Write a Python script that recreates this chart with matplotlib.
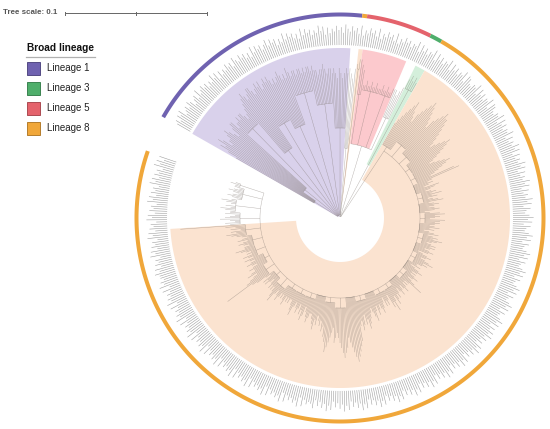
"""Circular phylogeny of isolates coloured by broad lineage (iTOL style)."""

import matplotlib
import numpy as np

matplotlib.use("Agg")
import matplotlib.pyplot as plt
from matplotlib.collections import LineCollection
from matplotlib.patches import Polygon, Rectangle

plt.rcParams["font.family"] = ["Liberation Sans", "DejaVu Sans"]

LINEAGES = ["Lineage 1", "Lineage 3", "Lineage 5", "Lineage 8"]
LINEAGE_COLORS = ["#6f62b0", "#4fae6b", "#e4636c", "#f0a73a"]
LEGEND_TITLE = "Broad lineage"
TREE_SCALE = 0.1

# subclades in leaf order, "<node>|<tips>": radius = 5 * int(char, 36) px from root
L1_GROUPS = ["6|oqsrtsqr", "9|rstsrqsttr", "p|sststtsrst", "h|uvwvuvwwvu",
             "m|vwvwuvwvwv", "k|uvuvwvuvuw", "q|vuvvuvvuvuvv", "n|uvuutuuvutuu",
             "i|tutsutstut", "e|utsu"]
L8_SINGLE = ["u|vw"]
L5_GROUPS = ["p|wvu", "q|rrsrrsrrsrr", "q|rsrrsrrs", "m|ssrst"]
L3_GROUPS = ["t|vwvwv"]
L8_GROUPS = [
    "h|mnopqrsqpo", "j|qrstutsrqp", "i|rstuttsrqpo", "h|nopqrqponm", "h|lmnoponmlkp",
    "g|qkjkjilkji", "h|jkjljkijkl", "g|ijkjijkjhi", "h|kljkjilkjk", "g|jijkijhijk",
    "h|ijkjlkjijk", "g|jkjijkjhij", "h|kjijkljkji", "g|ijhijkjiji", "h|jkjijkmjij",
    "g|ijkjijkjij", "h|kjkljkmkl",
    "h|ijkjkijklk", "g|jkljkmlkjk", "h|lmnlmkmnlm", "g|pqrstsrqpo", "i|qrsrqponop",
    "h|mnopqrpomn", "g|lmlkmlnmlk", "h|klmlkjlmkl", "h|jklkjkmlkj",
    "h|jkjkjlkjkj", "i|klkjkmlkjk", "h|jkjijkjkij", "i|lmsnmlkmlk", "h|klkjklkjkl",
    "i|jkljkjklmk", "i|kjklkjlkjk", "j|lmnlmkmlnw",
    "k|mnlmonmlnm", "l|mnomnlmnom", "k|lmnmlmnmlm", "l|mnm",
]

CLADES = [L1_GROUPS, L8_SINGLE, L5_GROUPS, L3_GROUPS, L8_GROUPS]
CLADE_LINEAGE = [0, 3, 2, 1, 3]
CLADE_MRCA = [2, 14, 75, 60, 44]   # px, where each clade leaves the root
CLADE_NODE = [3, 14, 75, 60, 80]   # px, radius of the clade's own node arc
SHADED_GROUPS = [9, 1, 3, 1, 34]   # leading subclades with a coloured background
SHADE_COLORS = ["#d9d1eb", "#fbe3d0", "#fcc9cd", "#d4efdb", "#fbe3d0"]

# rough length of each tip label (0-9)
LABEL_LEN = (
    "574869357486257394685736495827364857396485736294857369485726394857362948573649582736485739"
    "648573926485739264857392648573659284736592847365928473659287436592847365928743659284736592"
    "736495827364958273649582736495827436958274369582743695827436958274369582743695827436958274"
    "859473628594736285947362859473628594736285947362859473628594736285947362859473628594736285"
    "463829574638295746382957463829574638295746382957463829574638295746382957463829574638295746"
    "695837462958374629583746295837462958374629583746295837462958374629583746295837462958374629"
)

CX, CY = 340, 218
START_ANGLE, ARC_SPAN = 150.3, 349.5
WEDGE_R, LABEL_R, RING_R = 170, 173, 203.5


def rad(ch):
    return 5 * int(ch, 36)


def polar(r, a):
    t = np.radians(a)
    return CX + r * np.cos(t), CY - r * np.sin(t)


def arc(r, a1, a2):
    n = max(2, int(abs(a2 - a1) / 0.4) + 2)
    x, y = polar(r, np.linspace(a1, a2, n))
    return np.column_stack([x, y])


def radial(a, r1, r2):
    return np.array([polar(r1, a), polar(r2, a)])


def band(r1, r2, a1, a2):
    return np.vstack([arc(r2, a1, a2), arc(r1, a2, a1)])


def main():
    fig = plt.figure(figsize=(5.5, 4.29), dpi=100)
    ax = fig.add_axes([0, 0, 1, 1])
    ax.set_xlim(0, 550)
    ax.set_ylim(429, 0)
    ax.axis("off")

    n_leaves = sum(len(g.split("|")[1]) for c in CLADES for g in c)
    step = ARC_SPAN / n_leaves

    branches, labels = [], []
    stems = []
    i = 0
    for ci, groups in enumerate(CLADES):
        gmids, leaf_angles = [], []
        for gi, g in enumerate(groups):
            node, tips = g.split("|")
            nr = rad(node)
            angs = START_ANGLE - step * (i + 0.5 + np.arange(len(tips)))
            for a, ch in zip(angs, tips):
                branches.append(radial(a, nr, rad(ch)))
                d = int(LABEL_LEN[i % len(LABEL_LEN)])
                labels.append(radial(a, LABEL_R, LABEL_R + 8 + 1.4 * d))
                i += 1
            if len(tips) > 1:
                branches.append(arc(nr, angs[0], angs[-1]))
            gm = angs.mean()
            branches.append(radial(gm, CLADE_NODE[ci], nr))
            gmids.append(gm)
            leaf_angles.append(angs)
            if gi == SHADED_GROUPS[ci] - 1:
                a1 = leaf_angles[0][0] + step / 2
                a2 = angs[-1] - step / 2
                ax.add_patch(Polygon(band(CLADE_MRCA[ci], WEDGE_R, a1, a2), closed=True,
                                     facecolor=SHADE_COLORS[ci], edgecolor="none", zorder=1))
        if len(gmids) > 1:
            branches.append(arc(CLADE_NODE[ci], gmids[0], gmids[-1]))
        # the big lineage 8 clade is ladderized: its stem sits at the first subclade
        span = gmids[0] - gmids[-1]
        stem = gmids[0] if span > 180 else (gmids[0] + gmids[-1]) / 2
        branches.append(radial(stem, 1.5, CLADE_NODE[ci]))
        stems.append(stem)

        # lineage ring
        a1 = leaf_angles[0][0] + step / 2
        a2 = leaf_angles[-1][-1] - step / 2
        ax.add_patch(Polygon(band(RING_R - 2, RING_R + 2, a1, a2), closed=True,
                             facecolor=LINEAGE_COLORS[CLADE_LINEAGE[ci]],
                             edgecolor="none", zorder=3))
    branches.append(arc(1.5, stems[0], stems[-1]))

    ax.add_collection(LineCollection(branches, colors="#7a716a", linewidths=0.32,
                                     alpha=0.55, zorder=2))
    ax.add_collection(LineCollection(labels, colors="#9a9a9a", linewidths=0.38, zorder=2))

    # legend
    ax.text(27, 48, LEGEND_TITLE, fontsize=7.3, fontweight="bold", va="center", ha="left",
            color="#111111")
    ax.plot([26, 95], [57, 57], color="#b0b0b0", lw=0.9)
    for k, (name, col) in enumerate(zip(LINEAGES, LINEAGE_COLORS)):
        y = 68 + 20 * k
        edge = np.array(matplotlib.colors.to_rgb(col)) * 0.75
        ax.add_patch(Rectangle((27, y - 6.5), 13, 13, facecolor=col, edgecolor=edge, lw=0.7))
        ax.text(47, y, name, fontsize=7, va="center", ha="left", color="#222222")

    # tree scale bar
    px_per_unit = 1420
    x0, y0 = 65, 13
    x1 = x0 + TREE_SCALE * px_per_unit
    ax.text(3, y0, f"Tree scale: {TREE_SCALE}", fontsize=5.7, fontweight="bold",
            color="#555555", va="center", ha="left")
    ax.plot([x0, x1], [y0, y0], color="#666666", lw=0.7)
    for xt in (x0, (x0 + x1) / 2, x1):
        ax.plot([xt, xt], [y0 - 1.5, y0 + 1.5], color="#666666", lw=0.7)

    fig.savefig("out.png", dpi=100)
    plt.close(fig)


if __name__ == "__main__":
    main()
